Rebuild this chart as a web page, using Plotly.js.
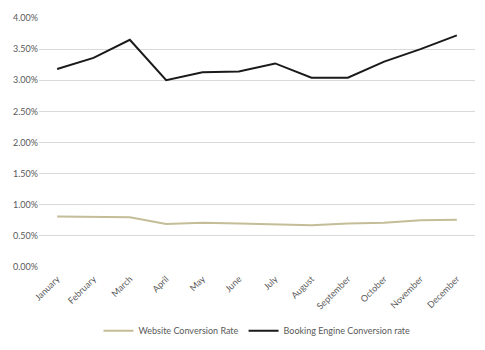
<!DOCTYPE html>
<html>
<head>
<meta charset="utf-8">
<script src="https://cdn.plot.ly/plotly-3.0.1.min.js"></script>
<style>html,body{margin:0;padding:0;background:#fff;}#chart{width:485px;height:350px;}</style>
</head>
<body>
<div id="chart"></div>
<script>
const months = ["January","February","March","April","May","June","July","August","September","October","November","December"];
const websiteRate = [0.0081,0.0081,0.0080,0.0069,0.0071,0.0070,0.0068,0.0067,0.0070,0.0071,0.0075,0.0076];
const bookingRate = [0.0318,0.0336,0.0365,0.0300,0.0313,0.0314,0.0327,0.0304,0.0304,0.0330,0.0350,0.0372];
const yTicks = [0,0.005,0.01,0.015,0.02,0.025,0.03,0.035,0.04];

const traces = [
  {x: months, y: websiteRate, name: "Website Conversion Rate", type: "scatter", mode: "lines",
   line: {color: "#c4bd97", width: 2}},
  {x: months, y: bookingRate, name: "Booking Engine Conversion rate", type: "scatter", mode: "lines",
   line: {color: "#1a1a1a", width: 2}}
];
const layout = {
  width: 485, height: 350,
  margin: {l: 39, r: 10, t: 18, b: 83},
  paper_bgcolor: "#fff", plot_bgcolor: "#fff",
  font: {family: "Lato, 'Open Sans', sans-serif", size: 9, color: "#595959"},
  showlegend: true,
  legend: {orientation: "h", x: 0.5, xanchor: "center", yref: "container", y: 0.055, yanchor: "middle",
           font: {size: 9, color: "#595959"}, itemwidth: 30, tracegroupgap: 0},
  xaxis: {type: "category", range: [-0.5, 11.5], tickangle: -45, showgrid: false, zeroline: false,
          showline: false, ticks: "", automargin: false, ticklabelstandoff: 4,
          tickfont: {size: 9, color: "#595959"}},
  yaxis: {range: [0, 0.04], tickvals: yTicks, tickformat: ".2%", showgrid: true, automargin: false,
          gridcolor: "#d9d9d9", gridwidth: 1, zeroline: false, showline: false, ticks: "",
          tickfont: {size: 9, color: "#595959"}}
};
Plotly.newPlot("chart", traces, layout, {displayModeBar: false, staticPlot: true});
</script>
</body>
</html>
